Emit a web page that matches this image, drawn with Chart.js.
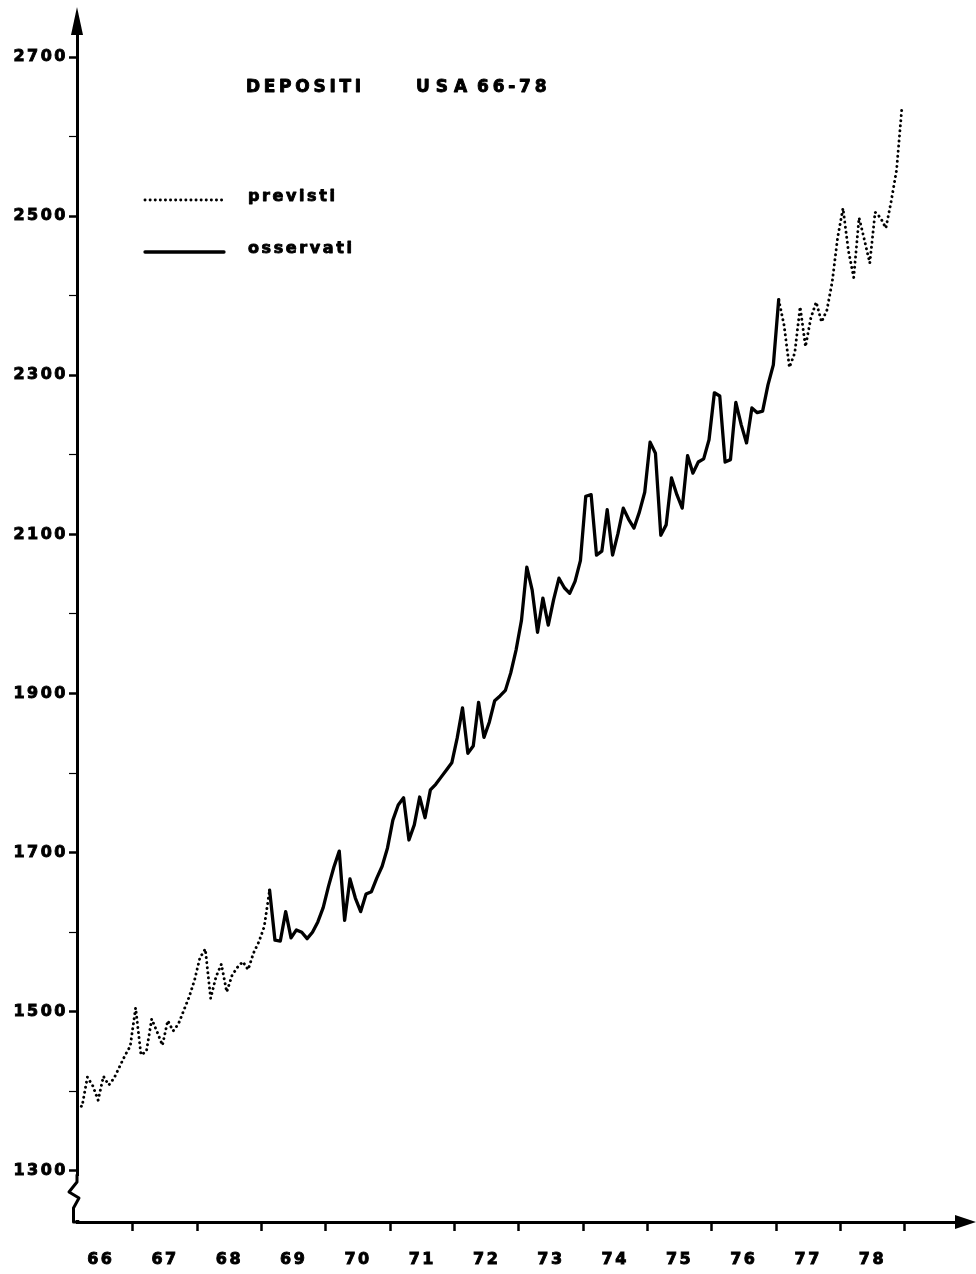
<!DOCTYPE html>
<html>
<head>
<meta charset="utf-8">
<script src="https://cdn.jsdelivr.net/npm/chart.js@4.4.1/dist/chart.umd.min.js"></script>
<style>
  html, body { margin: 0; padding: 0; background: #fff; }
  canvas { display: block; background: #fff; }
</style>
</head>
<body>
<canvas id="grafico" width="976" height="1274"></canvas>
<script>
// Depositi USA, valori mensili 1966-1978

// previsti: febbraio 1966 - febbraio 1969
const previstiIniziali = [
  1384, 1381, 1418, 1407, 1389, 1419, 1408, 1417, 1431, 1445, 1457,
  1505, 1446, 1450, 1491, 1475, 1458, 1489, 1476, 1485, 1502, 1519, 1540,
  1568, 1579, 1517, 1544, 1560, 1525, 1546, 1556, 1563, 1553, 1574, 1588,
  1607, 1653
];

// osservati: febbraio 1969 - gennaio 1977
const osservati = [
  1653, 1590, 1589, 1626, 1593, 1603, 1600, 1592, 1600, 1613, 1631,
  1658, 1682, 1702, 1615, 1667, 1643, 1626, 1648, 1651, 1668, 1683, 1706,
  1741, 1760, 1769, 1716, 1735, 1770, 1744, 1779, 1786, 1795, 1804, 1813,
  1844, 1882, 1825, 1834, 1889, 1845, 1864, 1891, 1897, 1904, 1926, 1955,
  1992, 2059, 2030, 1977, 2020, 1986, 2018, 2045, 2033, 2026, 2041, 2067,
  2148, 2150, 2074, 2079, 2131, 2074, 2101, 2133, 2119, 2108, 2128, 2153,
  2216, 2202, 2099, 2112, 2171, 2150, 2133, 2199, 2177, 2191, 2195, 2219,
  2278, 2274, 2191, 2194, 2266, 2238, 2215, 2259, 2253, 2255, 2288, 2313,
  2395
];

// previsti: gennaio 1977 - dicembre 1978
const previstiFinali = [
  2395, 2363, 2310, 2328, 2386, 2336, 2372, 2392, 2367, 2382, 2418, 2473,
  2510, 2457, 2423, 2498, 2470, 2441, 2505, 2498, 2485, 2519, 2558, 2637
];

const anni = ['66', '67', '68', '69', '70', '71', '72', '73', '74', '75', '76', '77', '78'];
const primoAnno = 1966;
const tacchePrincipaliY = [1300, 1500, 1700, 1900, 2100, 2300, 2500, 2700];
const taccheSecondarieY = [1400, 1600, 1800, 2000, 2200, 2400, 2600];

const titolo = ['DEPOSITI', 'U S A', '66-78'];

// Serie mensile -> punti {x: anno decimale a meta' mese, y: valore}
function serieMensile(valori, anno, mese) {
  return valori.map((v, i) => ({ x: anno + (mese + i + 0.5) / 12, y: v }));
}

const puntiPrevisti = [
  ...serieMensile(previstiIniziali, 1966, 1),
  { x: 1973, y: null },
  ...serieMensile(previstiFinali, 1977, 0)
];
const puntiOsservati = serieMensile(osservati, 1969, 1);

const FONT = 'DejaVu Sans';

// testo in grassetto marcato (riempimento + contorno)
function testoPieno(ctx, s, x, y, spazio) {
  ctx.letterSpacing = spazio + 'px';
  ctx.fillText(s, x, y);
  ctx.strokeText(s, x, y);
}

const decorazioni = {
  id: 'decorazioni',
  beforeDraw(chart) {
    chart.ctx.letterSpacing = '2.5px';
  },
  beforeDatasetsDraw(chart) {
    chart.ctx.letterSpacing = '0px';
  },
  afterDraw(chart) {
    const ctx = chart.ctx;
    const a = chart.chartArea;
    ctx.save();
    ctx.fillStyle = '#000';
    ctx.strokeStyle = '#000';

    // freccia asse verticale
    ctx.beginPath();
    ctx.moveTo(a.left, a.top - 13);
    ctx.lineTo(a.left - 6, a.top + 15);
    ctx.lineTo(a.left + 6, a.top + 15);
    ctx.closePath();
    ctx.fill();

    // freccia asse orizzontale
    ctx.beginPath();
    ctx.moveTo(a.right + 18, a.bottom);
    ctx.lineTo(a.right - 3, a.bottom - 7);
    ctx.lineTo(a.right - 3, a.bottom + 7);
    ctx.closePath();
    ctx.fill();

    // interruzione dell'asse verticale
    ctx.fillStyle = '#fff';
    ctx.fillRect(a.left - 10, a.bottom - 46, 20, 44);
    ctx.lineWidth = 3;
    ctx.lineJoin = 'round';
    ctx.lineCap = 'round';
    ctx.beginPath();
    ctx.moveTo(a.left, a.bottom - 47);
    ctx.lineTo(a.left, a.bottom - 40);
    ctx.lineTo(a.left - 8, a.bottom - 30);
    ctx.lineTo(a.left + 2, a.bottom - 24);
    ctx.lineTo(a.left - 3.5, a.bottom - 14);
    ctx.lineTo(a.left - 3.5, a.bottom);
    ctx.lineTo(a.left + 2, a.bottom);
    ctx.stroke();

    // titolo
    ctx.fillStyle = '#000';
    ctx.lineWidth = 0.9;
    ctx.lineJoin = 'round';
    ctx.textBaseline = 'alphabetic';
    ctx.textAlign = 'left';
    ctx.font = 'bold 17px "' + FONT + '"';
    testoPieno(ctx, titolo[0], 246, 92, 3.7);
    testoPieno(ctx, titolo[1], 416, 92, 0);
    testoPieno(ctx, titolo[2], 477, 92, 3.8);

    // legenda
    const voci = [chart.data.datasets[0], chart.data.datasets[1]];
    const righeY = [200, 252];
    ctx.font = 'bold 16px "' + FONT + '"';
    voci.forEach((ds, i) => {
      const y = righeY[i];
      ctx.save();
      ctx.strokeStyle = ds.borderColor;
      ctx.lineWidth = ds.borderWidth;
      ctx.lineCap = ds.borderCapStyle;
      ctx.setLineDash(ds.borderDash || []);
      ctx.beginPath();
      ctx.moveTo(145, y);
      ctx.lineTo(224, y);
      ctx.stroke();
      ctx.restore();
      testoPieno(ctx, ds.label, 248, y + 1, 2.6);
    });
    ctx.letterSpacing = '0px';
    ctx.restore();
  }
};

new Chart(document.getElementById('grafico'), {
  type: 'line',
  data: {
    datasets: [
      {
        label: 'previsti',
        data: puntiPrevisti,
        borderColor: '#000',
        borderWidth: 2.9,
        borderDash: [0.1, 5],
        borderCapStyle: 'round',
        borderJoinStyle: 'round',
        pointRadius: 0,
        tension: 0,
        spanGaps: false
      },
      {
        label: 'osservati',
        data: puntiOsservati,
        borderColor: '#000',
        borderWidth: 3.3,
        borderCapStyle: 'round',
        borderJoinStyle: 'round',
        pointRadius: 0,
        tension: 0
      }
    ]
  },
  options: {
    responsive: false,
    devicePixelRatio: 1,
    animation: false,
    layout: { padding: { top: 20, right: 18, bottom: 0, left: 0 } },
    plugins: {
      legend: { display: false },
      tooltip: { enabled: false },
      title: { display: false }
    },
    scales: {
      x: {
        type: 'linear',
        position: 'bottom',
        min: 1966.13,
        max: 1979.83,
        afterBuildTicks(scale) {
          const t = [];
          anni.forEach((_, i) => {
            t.push({ value: primoAnno + i + 0.5 });
            t.push({ value: primoAnno + i + 1 });
          });
          scale.ticks = t;
        },
        afterFit(scale) { scale.height = 52; },
        grid: {
          drawOnChartArea: false,
          drawTicks: true,
          tickLength: 9,
          tickWidth: 2.5,
          tickColor: (c) => (c.tick && Number.isInteger(c.tick.value)) ? '#000' : 'rgba(0,0,0,0)'
        },
        border: { display: true, color: '#000', width: 3 },
        ticks: {
          autoSkip: false,
          maxRotation: 0,
          minRotation: 0,
          padding: 19,
          color: '#000',
          textStrokeColor: '#000',
          textStrokeWidth: 0.9,
          font: { family: FONT, size: 16, weight: 'bold' },
          callback: (v) => Number.isInteger(v) ? '' : anni[Math.floor(v) - primoAnno]
        }
      },
      y: {
        type: 'linear',
        position: 'left',
        min: 1235.9,
        max: 2746.5,
        afterBuildTicks(scale) {
          scale.ticks = [...tacchePrincipaliY, ...taccheSecondarieY]
            .sort((p, q) => p - q)
            .map((v) => ({ value: v }));
        },
        afterFit(scale) { scale.width = 77; },
        grid: {
          drawOnChartArea: false,
          drawTicks: true,
          tickLength: 8,
          tickColor: '#000',
          tickWidth: (c) => (c.tick && tacchePrincipaliY.includes(c.tick.value)) ? 2.5 : 1.2
        },
        border: { display: true, color: '#000', width: 3 },
        ticks: {
          padding: 1,
          color: '#000',
          textStrokeColor: '#000',
          textStrokeWidth: 0.9,
          font: { family: FONT, size: 16, weight: 'bold' },
          callback: (v) => tacchePrincipaliY.includes(v) ? String(v) : ''
        }
      }
    }
  },
  plugins: [decorazioni]
});
</script>
</body>
</html>
